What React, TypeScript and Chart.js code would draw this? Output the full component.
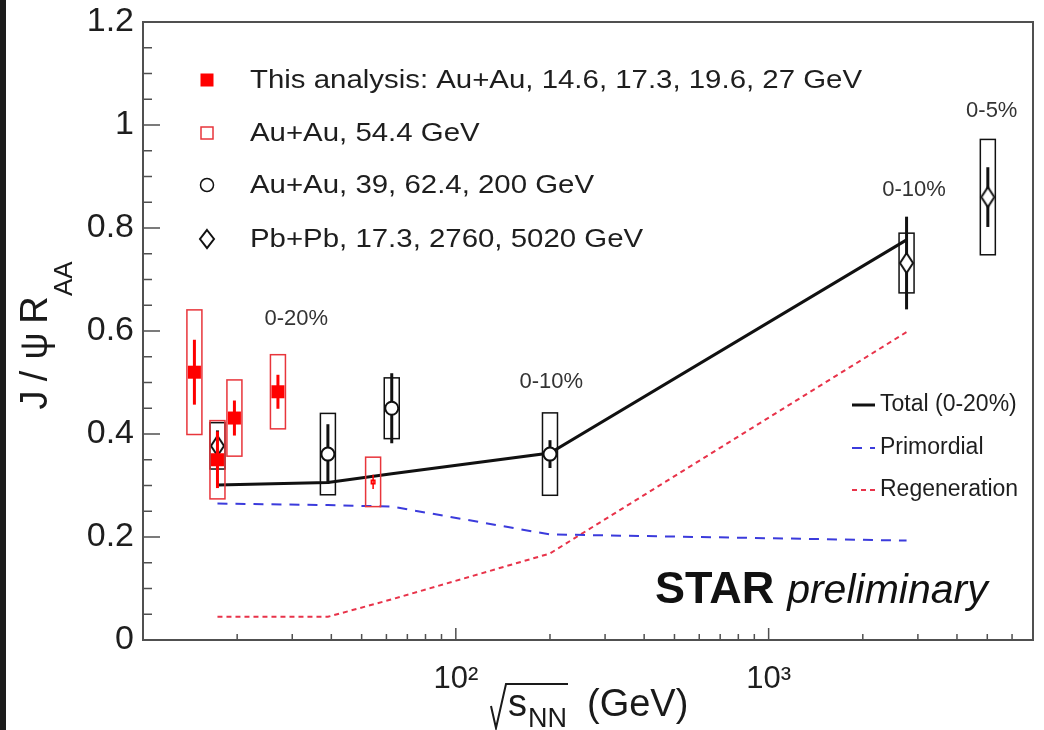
import React, { useEffect, useRef } from 'react';
import { Chart, registerables } from 'chart.js';

Chart.register(...registerables);

// ---------------- data ----------------
const thisEnergy = [14.6, 17.3, 19.6, 27];
const thisRaa = [0.52, 0.35, 0.431, 0.482];
const thisStat = [0.063, 0.055, 0.034, 0.033];
const thisSys = [0.121, 0.076, 0.074, 0.072];

const au54Energy = [54.4];
const au54Raa = [0.307];
const au54Stat = [0.014];
const au54Sys = [0.048];

const auEnergy = [39, 62.4, 200];
const auRaa = [0.361, 0.45, 0.361];
const auStat = [0.058, 0.068, 0.027];
const auSys = [0.079, 0.059, 0.08];

const pbEnergy = [17.3, 2760, 5020];
const pbRaa = [0.377, 0.732, 0.86];
const pbStat = [0.03, 0.09, 0.058];
const pbSys = [0.045, 0.058, 0.112];

const modelEnergy = [17.3, 39, 62.4, 200, 2760];
const totalRaa = [0.301, 0.306, 0.323, 0.363, 0.777];
const primordialRaa = [0.265, 0.262, 0.259, 0.205, 0.193];
const regenerationRaa = [0.045, 0.045, 0.079, 0.168, 0.598];

const legendLabels = [
  'This analysis: Au+Au, 14.6, 17.3, 19.6, 27 GeV',
  'Au+Au, 54.4 GeV',
  'Au+Au, 39, 62.4, 200 GeV',
  'Pb+Pb, 17.3, 2760, 5020 GeV',
];
const modelLabels = ['Total (0-20%)', 'Primordial', 'Regeneration'];

const noteTexts = ['0-20%', '0-10%', '0-10%', '0-5%'];
const noteEnergy = [30.9, 202, 2917, 5167];
const noteRaa = [0.623, 0.501, 0.874, 1.027];

const xMajorTicks = [100, 1000];
const xTickLabels = ['10\u00B2', '10\u00B3'];
const xMinorTicks = [20, 30, 40, 50, 60, 70, 80, 90, 200, 300, 400, 500, 600, 700, 800, 900, 2000, 3000, 4000, 5000, 6000, 7000];
const yMajorTicks = [0, 0.2, 0.4, 0.6, 0.8, 1.0, 1.2];
const yTickLabels = ['0', '0.2', '0.4', '0.6', '0.8', '1', '1.2'];
const yMinorTicks = [0.05, 0.1, 0.15, 0.25, 0.3, 0.35, 0.45, 0.5, 0.55, 0.65, 0.7, 0.75, 0.85, 0.9, 0.95, 1.05, 1.1, 1.15];

// ---------------- styles ----------------
const FONT = '"Liberation Sans", Arial, Helvetica, sans-serif';
const RED = '#ff0000';
const RED_BOX = '#e8353b';
const BLUE = '#3b3bdc';
const RED_DASH = '#e8334a';
const BLACK = '#111111';
const AXIS = '#505050';

function makeDiamond(hw: number, hh: number, lw: number) {
  const c = document.createElement('canvas');
  const pad = lw + 1;
  c.width = Math.round(2 * hw + 2 * pad);
  c.height = Math.round(2 * hh + 2 * pad);
  const g = c.getContext('2d')!;
  const cx = c.width / 2;
  const cy = c.height / 2;
  g.beginPath();
  g.moveTo(cx, cy - hh);
  g.lineTo(cx + hw, cy);
  g.lineTo(cx, cy + hh);
  g.lineTo(cx - hw, cy);
  g.closePath();
  g.fillStyle = '#ffffff';
  g.fill();
  g.lineWidth = lw;
  g.strokeStyle = BLACK;
  g.stroke();
  return c;
}

const pts = (xs: number[], ys: number[]) => xs.map((x, i) => ({ x, y: ys[i] }));

const errorPlugin = {
  id: 'errorBoxes',
  beforeDatasetDraw(chart: any, args: any) {
    const ds: any = chart.data.datasets[args.index];
    if (!ds.sys) return;
    const { ctx } = chart;
    const xs = chart.scales.x;
    const ys = chart.scales.y;
    ctx.save();
    ds.data.forEach((p: any, i: number) => {
      const px = xs.getPixelForValue(p.x);
      const bTop = ys.getPixelForValue(p.y + ds.sys[i]);
      const bBot = ys.getPixelForValue(p.y - ds.sys[i]);
      ctx.strokeStyle = ds.boxColor;
      ctx.lineWidth = 1.5;
      ctx.strokeRect(px - 7.5, bTop, 15, bBot - bTop);
      const sTop = ys.getPixelForValue(p.y + ds.stat[i]);
      const sBot = ys.getPixelForValue(p.y - ds.stat[i]);
      ctx.strokeStyle = ds.barColor;
      ctx.lineWidth = ds.barWidth;
      ctx.beginPath();
      ctx.moveTo(px, sTop);
      ctx.lineTo(px, sBot);
      ctx.stroke();
    });
    ctx.restore();
  },
};

function makeDecorPlugin(diamondLegend: HTMLCanvasElement) {
  return {
    id: 'decor',
    afterDraw(chart: any) {
      const { ctx, chartArea: a } = chart;
      const xs = chart.scales.x;
      const ys = chart.scales.y;
      ctx.save();
      // frame
      ctx.strokeStyle = AXIS;
      ctx.lineWidth = 2;
      ctx.strokeRect(a.left, a.top, a.right - a.left, a.bottom - a.top);
      // inward ticks
      ctx.lineWidth = 1.5;
      ctx.beginPath();
      yMajorTicks.forEach((v) => {
        const py = ys.getPixelForValue(v);
        ctx.moveTo(a.left, py);
        ctx.lineTo(a.left + 17, py);
      });
      yMinorTicks.forEach((v) => {
        const py = ys.getPixelForValue(v);
        ctx.moveTo(a.left, py);
        ctx.lineTo(a.left + 9, py);
      });
      xMajorTicks.forEach((v) => {
        const px = xs.getPixelForValue(v);
        ctx.moveTo(px, a.bottom);
        ctx.lineTo(px, a.bottom - 12);
      });
      xMinorTicks.forEach((v) => {
        const px = xs.getPixelForValue(v);
        ctx.moveTo(px, a.bottom);
        ctx.lineTo(px, a.bottom - 6);
      });
      ctx.stroke();

      // y title (rotated)
      ctx.fillStyle = '#1a1a1a';
      ctx.save();
      ctx.translate(41, 0);
      ctx.rotate(-Math.PI / 2);
      ctx.textBaseline = 'alphabetic';
      ctx.textAlign = 'center';
      ctx.font = `38px ${FONT}`;
      const yTitleParts = ['J', '/', '\u03C8', 'R'];
      const yTitleCenters = [400, 376, 346, 310];
      yTitleParts.forEach((t, i) => ctx.fillText(t, -yTitleCenters[i], 0));
      ctx.textAlign = 'left';
      ctx.font = `26px ${FONT}`;
      ctx.fillText('AA', -296, 25);
      ctx.restore();

      // x title
      ctx.textAlign = 'left';
      ctx.textBaseline = 'alphabetic';
      ctx.font = `38px ${FONT}`;
      ctx.fillText('s', 502, 716);
      const sw = ctx.measureText('s').width;
      ctx.font = `27px ${FONT}`;
      ctx.fillText('NN', 502 + sw + 1, 727);
      ctx.font = `38px ${FONT}`;
      ctx.fillText('(GeV)', 581, 716);
      ctx.strokeStyle = '#1a1a1a';
      ctx.lineWidth = 2;
      ctx.beginPath();
      ctx.moveTo(485, 706);
      ctx.lineTo(490, 728);
      ctx.lineTo(500, 684);
      ctx.lineTo(562, 684);
      ctx.stroke();

      // centrality notes
      ctx.fillStyle = '#333333';
      ctx.font = `22px ${FONT}`;
      ctx.textAlign = 'center';
      ctx.textBaseline = 'middle';
      noteTexts.forEach((t, i) => {
        ctx.fillText(t, xs.getPixelForValue(noteEnergy[i]), ys.getPixelForValue(noteRaa[i]));
      });

      // legend 1
      const lx = 201;
      const rows = [80, 133, 185, 239];
      ctx.fillStyle = RED;
      ctx.fillRect(lx - 6.5, rows[0] - 6.5, 13, 13);
      ctx.strokeStyle = RED_BOX;
      ctx.lineWidth = 1.5;
      ctx.strokeRect(lx - 6, rows[1] - 6, 12, 12);
      ctx.strokeStyle = BLACK;
      ctx.beginPath();
      ctx.arc(lx, rows[2], 6.5, 0, Math.PI * 2);
      ctx.stroke();
      ctx.drawImage(diamondLegend, lx - diamondLegend.width / 2, rows[3] - diamondLegend.height / 2);
      ctx.fillStyle = '#1e1e1e';
      ctx.font = `26px ${FONT}`;
      ctx.textAlign = 'left';
      ctx.textBaseline = 'middle';
      const stretch = 612 / ctx.measureText(legendLabels[0]).width;
      legendLabels.forEach((t, i) => {
        ctx.save();
        ctx.translate(244, rows[i] + 1);
        ctx.scale(stretch, 1);
        ctx.fillText(t, 0, 0);
        ctx.restore();
      });

      // legend 2
      const mrows = [405, 448, 490];
      const mColors = [BLACK, BLUE, RED_DASH];
      const mDash = [[], [10, 8], [5, 4]];
      const mWidth = [3, 2, 2];
      mrows.forEach((ry, i) => {
        ctx.strokeStyle = mColors[i];
        ctx.lineWidth = mWidth[i];
        ctx.setLineDash(mDash[i]);
        ctx.beginPath();
        ctx.moveTo(846, ry);
        ctx.lineTo(869, ry);
        ctx.stroke();
      });
      ctx.setLineDash([]);
      ctx.fillStyle = '#1e1e1e';
      ctx.font = `23px ${FONT}`;
      modelLabels.forEach((t, i) => ctx.fillText(t, 874, mrows[i]));

      // STAR preliminary
      ctx.textBaseline = 'alphabetic';
      ctx.fillStyle = '#111111';
      ctx.font = `bold 45px ${FONT}`;
      ctx.fillText('STAR', 649, 603);
      const starW = ctx.measureText('STAR').width;
      ctx.font = `italic 41px ${FONT}`;
      ctx.fillText('preliminary', 649 + starW + 13, 603);
      ctx.restore();
    },
  };
}

const zeroPadding = (s: any) => {
  s.paddingLeft = 0;
  s.paddingRight = 0;
  s.paddingTop = 0;
  s.paddingBottom = 0;
};

export default function App() {
  const ref = useRef<HTMLCanvasElement | null>(null);

  useEffect(() => {
    document.body.style.margin = '0';
    document.body.style.background = '#1c1c1c';
    const canvas = ref.current!;
    const diamond = makeDiamond(6.5, 10, 2);
    const diamondLegend = makeDiamond(7, 9, 2);

    const chart = new Chart(canvas, {
      type: 'scatter',
      data: {
        datasets: [
          {
            label: 'This analysis',
            data: pts(thisEnergy, thisRaa),
            pointStyle: 'rect',
            pointRadius: 9.2,
            backgroundColor: RED,
            borderColor: RED,
            borderWidth: 0,
            order: 0,
            sys: thisSys,
            stat: thisStat,
            boxColor: RED_BOX,
            barColor: RED,
            barWidth: 3,
          } as any,
          {
            label: 'Au+Au 54.4',
            data: pts(au54Energy, au54Raa),
            pointStyle: 'rect',
            pointRadius: 2.5,
            backgroundColor: 'rgba(0,0,0,0)',
            borderColor: RED,
            borderWidth: 1.5,
            order: 1,
            sys: au54Sys,
            stat: au54Stat,
            boxColor: RED_BOX,
            barColor: RED,
            barWidth: 1.5,
          } as any,
          {
            label: 'Pb+Pb',
            data: pts(pbEnergy, pbRaa),
            pointStyle: diamond,
            pointRadius: 10,
            order: 2,
            sys: pbSys,
            stat: pbStat,
            boxColor: BLACK,
            barColor: BLACK,
            barWidth: 3,
          } as any,
          {
            label: 'Au+Au',
            data: pts(auEnergy, auRaa),
            pointStyle: 'circle',
            pointRadius: 6.5,
            backgroundColor: '#ffffff',
            borderColor: BLACK,
            borderWidth: 2,
            order: 3,
            sys: auSys,
            stat: auStat,
            boxColor: BLACK,
            barColor: BLACK,
            barWidth: 3,
          } as any,
          {
            label: 'Total',
            type: 'line',
            data: pts(modelEnergy, totalRaa),
            borderColor: BLACK,
            borderWidth: 3,
            pointRadius: 0,
            fill: false,
            tension: 0,
            order: 4,
          } as any,
          {
            label: 'Primordial',
            type: 'line',
            data: pts(modelEnergy, primordialRaa),
            borderColor: BLUE,
            borderWidth: 2,
            borderDash: [10, 8],
            pointRadius: 0,
            fill: false,
            tension: 0,
            order: 5,
          } as any,
          {
            label: 'Regeneration',
            type: 'line',
            data: pts(modelEnergy, regenerationRaa),
            borderColor: RED_DASH,
            borderWidth: 2,
            borderDash: [5, 4],
            pointRadius: 0,
            fill: false,
            tension: 0,
            order: 6,
          } as any,
        ],
      },
      options: {
        animation: false,
        responsive: false,
        maintainAspectRatio: false,
        events: [],
        layout: { padding: { top: 22, right: 7, left: 0, bottom: 0 } },
        plugins: { legend: { display: false }, tooltip: { enabled: false }, title: { display: false } },
        scales: {
          x: {
            type: 'logarithmic',
            min: 10,
            max: 7000,
            grid: { display: false, drawTicks: false },
            border: { display: false },
            afterBuildTicks: (s: any) => {
              s.ticks = [...xMinorTicks, ...xMajorTicks].sort((p, q) => p - q).map((v) => ({ value: v }));
            },
            afterFit: (s: any) => {
              s.height = 90;
              zeroPadding(s);
            },
            ticks: {
              autoSkip: false,
              maxRotation: 0,
              minRotation: 0,
              padding: 21,
              color: '#1e1e1e',
              font: { family: FONT, size: 31 },
              callback: (v: any) => {
                const i = xMajorTicks.indexOf(Number(v));
                return i >= 0 ? xTickLabels[i] : '';
              },
            },
          },
          y: {
            type: 'linear',
            min: 0,
            max: 1.2,
            grid: { display: false, drawTicks: false },
            border: { display: false },
            afterBuildTicks: (s: any) => {
              s.ticks = [...yMajorTicks, ...yMinorTicks].sort((p, q) => p - q).map((v) => ({ value: v }));
            },
            afterFit: (s: any) => {
              s.width = 137;
              zeroPadding(s);
            },
            ticks: {
              autoSkip: false,
              padding: 9,
              color: '#1e1e1e',
              font: { family: FONT, size: 34 },
              callback: (v: any) => {
                const i = yMajorTicks.findIndex((m) => Math.abs(m - Number(v)) < 1e-6);
                return i >= 0 ? yTickLabels[i] : '';
              },
            },
          },
        },
      } as any,
      plugins: [errorPlugin, makeDecorPlugin(diamondLegend)],
    });

    return () => chart.destroy();
  }, []);

  return (
    <div style={{ position: 'absolute', left: 6, top: 0, width: 1038, height: 730, background: '#ffffff' }}>
      <canvas ref={ref} width={1038} height={730} style={{ display: 'block' }} />
    </div>
  );
}
